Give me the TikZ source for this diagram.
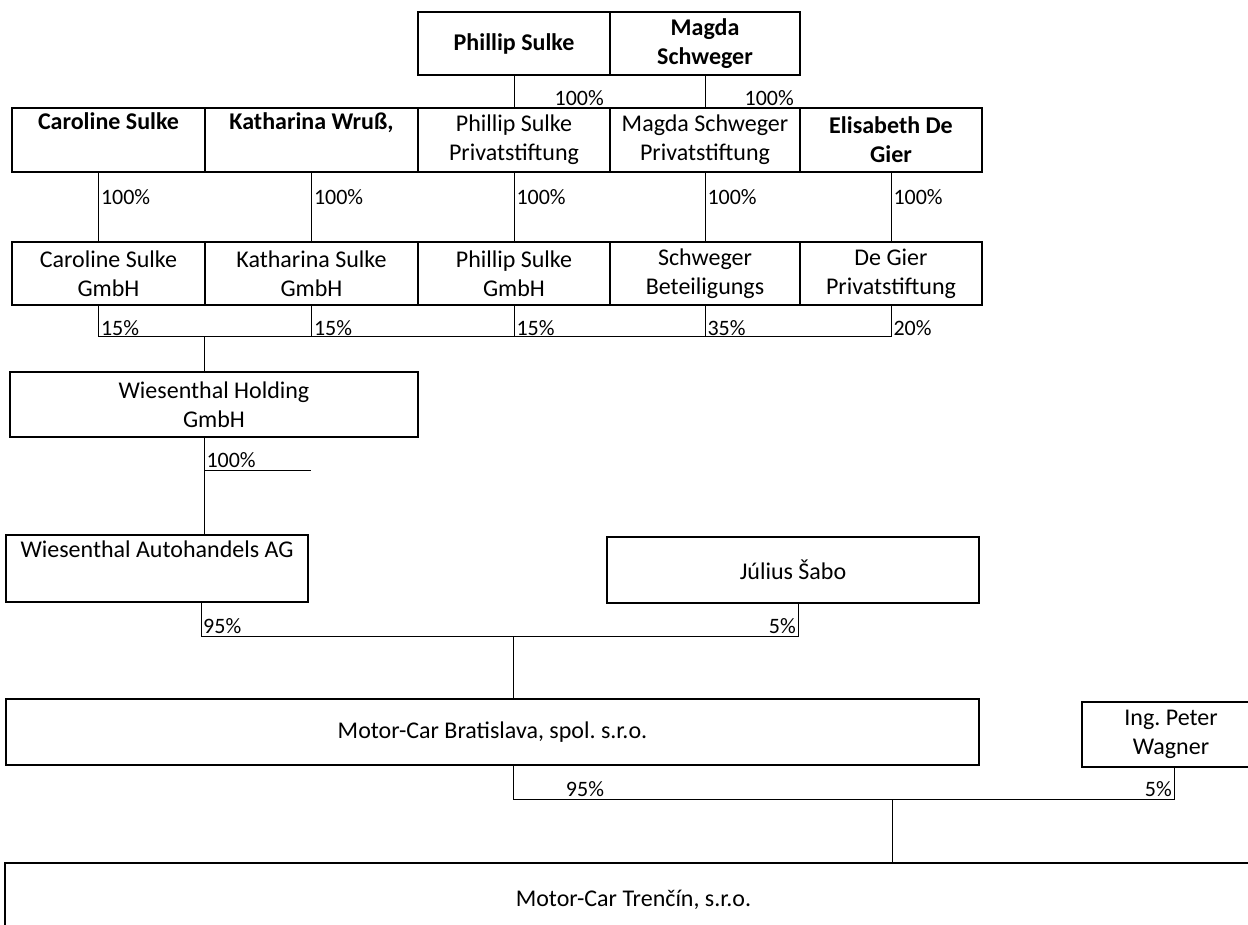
\documentclass[tikz,border=0pt]{standalone}
\usepackage{fontspec}
\setmainfont{Carlito}

\tikzset{
  box/.style={draw, line width=2pt, inner sep=0pt, align=center,
    font=\fontsize{24}{29}\selectfont},
  boxb/.style={box, font=\fontsize{24}{29}\selectfont\bfseries},
  conn/.style={line width=1pt},
  pct/.style={inner sep=2pt, font=\fontsize{22}{26}\selectfont},
}

\begin{document}
\begin{tikzpicture}[x=1pt,y=-1pt]
\useasboundingbox (0,0) rectangle (1248,925);
\clip (0,0) rectangle (1248,925);

% les personnes en haut
\node[boxb, minimum width=192pt, minimum height=63pt] (ps) at (514,43.5) {Phillip Sulke};
\node[boxb, minimum width=190pt, minimum height=63pt] (ms) at (705,43.5) {Magda\\Schweger};

% deuxieme ligne
\foreach \n/\x/\w/\s/\t in {car/108.5/193/boxb/Caroline Sulke\\\strut,
    kat/311.5/213/boxb/Katharina Wruß{,}\\\strut,
    psp/514/192/box/Phillip Sulke\\Privatstiftung,
    msp/705/190/box/Magda Schweger\\Privatstiftung,
    eli/891/182/boxb/Elisabeth De\\Gier}
    \node[\s, minimum width=\w pt, minimum height=64pt] (\n) at (\x,140) {\t};

% les GmbH
\foreach \n/\x/\w/\t in {carg/108.5/193/Caroline Sulke\\GmbH,
    katg/311.5/213/Katharina Sulke\\GmbH,
    phig/514/192/Phillip Sulke\\GmbH,
    schg/705/190/Schweger\\Beteiligungs,
    degg/891/182/De Gier\\Privatstiftung}
    \node[box, minimum width=\w pt, minimum height=63pt] (\n) at (\x,273.5) {\t};

% holding et la suite
\node[box, minimum width=408pt, minimum height=65pt] (hold) at (214,404.5) {Wiesenthal Holding\\GmbH};
\node[box, minimum width=302pt, minimum height=67pt] (wag) at (157,568.5) {Wiesenthal Autohandels AG\\\strut};
\node[box, minimum width=372pt, minimum height=66pt] (jul) at (793,570) {Július Šabo};
\node[box, minimum width=973pt, minimum height=66pt] (mcb) at (492.5,732) {Motor-Car Bratislava, spol.\ s.r.o.};
\node[box, minimum width=178pt, minimum height=65pt] (ing) at (1171,734.5) {Ing.\ Peter\\Wagner};
\node[box, minimum width=1257pt, minimum height=74pt] (mct) at (633.5,900) {Motor-Car Trenčín, s.r.o.};

% liaisons du haut
\draw[conn] (ps.south) -- (psp.north);
\draw[conn] (ms.south) -- (msp.north);
\node[pct, anchor=east] (lps) at ([xshift=-5,yshift=-22]ps.south east) {100\%};
\node[pct, anchor=east] (lms) at ([xshift=-5,yshift=-22]ms.south east) {100\%};

% liaisons 100 %
\foreach \n/\m/\d in {car/carg/-10, kat/katg/0, psp/phig/0, msp/schg/0, eli/degg/0}
    \draw[conn] ([xshift=\d]\n.south) -- node[pct, anchor=west, pos=.35] (l\n) {100\%} ([xshift=\d]\m.north);

% les parts dans la holding
\coordinate (bus1) at (0,337);
\foreach \m/\d/\p in {carg/-10/15, katg/0/15, phig/0/15, schg/0/35, degg/0/20}
    \draw[conn] ([xshift=\d]\m.south) -- node[pct, anchor=west, pos=.7] (l\m) {\p\%} ([xshift=\d]\m.south |- bus1);
\draw[conn] ([xshift=-10]carg.south |- bus1) -- (degg.south |- bus1);
\draw[conn] ([xshift=-10]hold.north) -- ([xshift=-10]hold.north |- bus1);

% holding -- AG
\draw[conn] ([xshift=-10]hold.south) -- node[pct, anchor=west, pos=.23] (lhold) {100\%} ([xshift=-10]hold.south |- wag.north);
\coordinate (stub) at ([xshift=-10,yshift=-32]hold.south);
\draw[conn] (stub) -- ++(107,0);

% AG et Sabo -- Bratislava
\coordinate (b2l) at (201,636);
\coordinate (b2m) at (513,636);
\coordinate (b2r) at (798,636);
\draw[conn] (b2l |- wag.south) -- (b2l) -- (b2r) -- (b2r |- jul.south);
\draw[conn] (b2m) -- (b2m |- mcb.north);
\node[pct, anchor=south west] (lwag) at (b2l) {95\%};
\node[pct, anchor=south east] (ljul) at (b2r) {5\%};

% Bratislava et Wagner -- Trencin
\coordinate (b3l) at (513,799);
\coordinate (b3m) at (892,799);
\coordinate (b3r) at (1174,799);
\draw[conn] (b3l |- mcb.south) -- (b3l) -- (b3r) -- (b3r |- ing.south);
\draw[conn] (b3m) -- (b3m |- mct.north);
\node[pct, anchor=south] (lmcb) at ([xshift=72]b3l) {95\%};
\node[pct, anchor=south east] (ling) at (b3r) {5\%};
\end{tikzpicture}
\end{document}
